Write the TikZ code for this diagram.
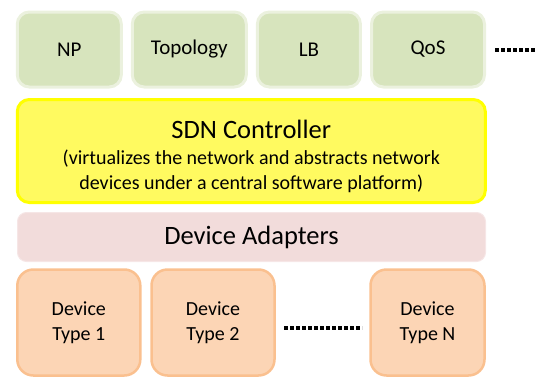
\documentclass[tikz,border=0pt]{standalone}
\usepackage{fontspec}
\setmainfont{Carlito}
\definecolor{appfill}{HTML}{D7E4BD}
\definecolor{appline}{HTML}{EBF1DE}
\definecolor{ctlfill}{HTML}{FFFA60}
\definecolor{ctlline}{HTML}{FFFF00}
\definecolor{adpfill}{HTML}{F2DCDB}
\definecolor{devfill}{HTML}{FCD5B5}
\definecolor{devline}{HTML}{FAC08F}
\tikzset{
  appbox/.style={draw=appline, fill=appfill, line width=3pt, rounded corners=12pt, inner sep=0pt, minimum height=75pt, font=\fontsize{21}{24}\selectfont},
  ctlbox/.style={draw=ctlline, fill=ctlfill, line width=3pt, rounded corners=12pt, inner sep=0pt},
  adpbox/.style={draw=adpfill!70!white, fill=adpfill, line width=1pt, rounded corners=9pt, inner sep=0pt, font=\fontsize{26.5}{30}\selectfont},
  devbox/.style={draw=devline, fill=devfill, line width=2.5pt, rounded corners=16pt, inner sep=0pt, minimum height=106pt, align=center, font=\fontsize{20}{25.5}\selectfont},
  dots/.style={line width=4pt, dash pattern=on 4pt off 2pt},
}
\begin{document}
\begin{tikzpicture}[x=1pt,y=-1pt]
\useasboundingbox (0,0) rectangle (536,378);
\node[appbox, minimum width=104pt] (np) at (69.3,49.5) {NP};
\node[appbox, minimum width=114pt] (topo) at (189.3,49.5) {Topology};
\node[appbox, minimum width=103pt] (lb) at (308.9,49.5) {LB};
\node[appbox, minimum width=113pt] (qos) at (428,49.5) {QoS};
\coordinate (appdotsA) at (495,50);
\coordinate (appdotsB) at (536,50);
\draw[dots] (appdotsA) -- (appdotsB);
\node[ctlbox, minimum width=468pt, minimum height=103pt] (ctl) at (251.3,151) {};
\node[font=\fontsize{26.5}{30}\selectfont] (ctltitle) at (251.3,129) {SDN Controller};
\node[font=\fontsize{20}{25.5}\selectfont, align=center] (ctlsub) at (251.3,171.5) {(virtualizes the network and abstracts network\\devices under a central software platform)};
\node[adpbox, minimum width=468pt, minimum height=49pt] (adp) at (251.5,237) {Device Adapters};
\node[devbox, minimum width=123pt] (dev1) at (78.8,322.5) {Device\\Type 1};
\node[devbox, minimum width=123pt] (dev2) at (213,322.5) {Device\\Type 2};
\node[devbox, minimum width=114pt] (devn) at (427.5,322.5) {Device\\Type N};
\coordinate (devdotsA) at (284,328);
\coordinate (devdotsB) at (362,328);
\draw[dots] (devdotsA) -- (devdotsB);
\end{tikzpicture}
\end{document}
